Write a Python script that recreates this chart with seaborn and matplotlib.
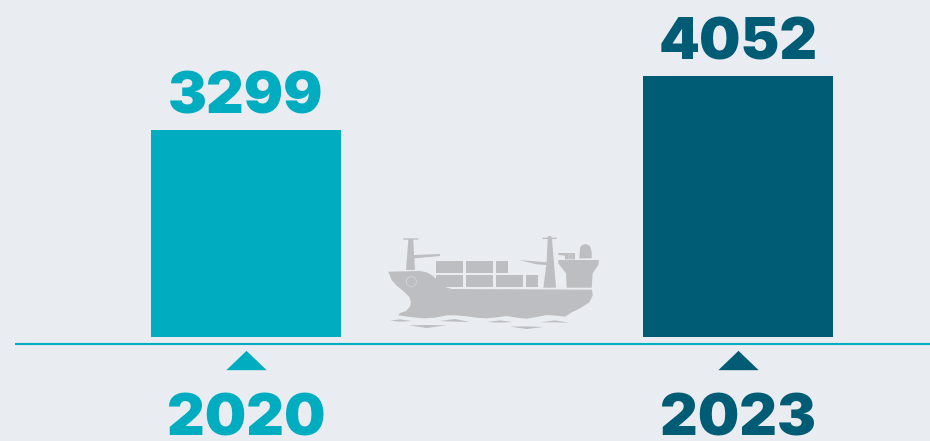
import matplotlib
matplotlib.use('Agg')
import matplotlib.pyplot as plt
from matplotlib.patches import Polygon, Rectangle, Circle
import pandas as pd
import seaborn as sns

years = ['2020', '2023']
ships = [3299, 4052]
colors = ['#00ACBF', '#005B75']

BG = '#E9ECF1'
SHIP = '#BCBEC2'

sns.set_theme(style='white')
plt.rcParams['font.family'] = ['Inter', 'DejaVu Sans']

df = pd.DataFrame({'year': years, 'ships': ships})

fig = plt.figure(figsize=(9.3, 4.41), dpi=100, facecolor=BG)

# 柱状图区域：顶部到基线 y=337px
ax = fig.add_axes([0, 1 - 337 / 441, 1, 337 / 441], facecolor='none')
sns.barplot(data=df, x='year', y='ships', hue='year', palette=colors,
            legend=False, width=190 / 492, saturation=1, linewidth=0, ax=ax)
ax.set_xlim(-246 / 492, 684 / 492)
ax.set_ylim(412, 412 + 337 / 0.0717)
ax.set_xlabel('')
ax.set_ylabel('')
ax.set_yticks([])
for s in ax.spines.values():
    s.set_visible(False)

for cont, c in zip(ax.containers, colors):
    ax.bar_label(cont, fontsize=42, fontweight=900, color=c, padding=3)

ax.tick_params(axis='x', length=0, pad=41)
for lab, c in zip(ax.get_xticklabels(), colors):
    lab.set_fontsize(42)
    lab.set_fontweight(900)
    lab.set_color(c)

# 刻度下面的小三角
tri = [(-1, -0.48), (1, -0.48), (0, 0.48)]
for i, c in enumerate(colors):
    ax.plot([i], [-22.5 / 337], marker=tri, ms=29, color=c, mew=0,
            transform=ax.get_xaxis_transform(), clip_on=False)

# 像素坐标的覆盖层：基线和轮船
ov = fig.add_axes([0, 0, 1, 1], facecolor='none')
ov.set_xlim(0, 930)
ov.set_ylim(441, 0)
ov.axis('off')
ov.plot([15, 930], [343.5, 343.5], color=colors[0], lw=1.5, solid_capstyle='butt')


def px(pts):
    return [(380 + x / 3, 225 + y / 3) for x, y in pts]


shapes = [
    # 船身
    [(25, 140), (120, 138), (140, 142), (158, 152), (175, 167), (195, 186), (215, 192),
     (636, 194), (638, 212), (628, 232), (600, 250), (575, 262), (555, 275), (530, 272),
     (500, 270), (470, 276), (440, 281), (410, 278), (380, 273), (350, 277), (320, 280),
     (290, 278), (260, 274), (230, 271), (200, 271), (165, 278), (130, 280), (90, 276),
     (55, 271), (60, 264), (78, 258), (90, 245), (93, 232), (88, 216), (72, 200), (50, 182), (35, 165)],
    # 前桅
    [(70, 40), (115, 40), (115, 44), (100, 44), (102, 90), (180, 87), (180, 93), (103, 100),
     (105, 135), (78, 135), (85, 44), (70, 44)],
    # 后桅
    [(488, 38), (503, 38), (505, 33), (513, 33), (515, 38), (530, 38), (530, 42), (516, 42),
     (528, 188), (490, 188), (499, 120), (470, 118), (418, 105), (500, 112), (503, 42), (488, 42)],
    # 上层建筑
    [(535, 105), (657, 105), (655, 120), (638, 145), (635, 188), (560, 188), (558, 145), (535, 115)],
    [(535, 84), (585, 84), (585, 103), (555, 103), (555, 92), (535, 90)],
    [(598, 100), (600, 68), (606, 60), (618, 57), (630, 63), (635, 80), (635, 100)],
    # 水波
    [(30, 287), (60, 283), (95, 288), (60, 290)],
    [(85, 301), (140, 300), (200, 301), (140, 309)],
    [(180, 288), (225, 282), (270, 291), (225, 290)],
    [(322, 291), (360, 286), (398, 291), (360, 293)],
    [(390, 305), (440, 304), (490, 306), (440, 312)],
    [(480, 292), (525, 286), (568, 293), (525, 292)],
]
for s in shapes:
    ov.add_patch(Polygon(px(s), closed=True, fc=SHIP, ec='none'))

boxes = [(167, 107, 83, 36), (258, 107, 82, 36), (348, 107, 36, 36), (167, 150, 83, 36),
         (258, 150, 82, 36), (348, 150, 82, 36), (437, 150, 37, 36)]
for x, y, w, h in boxes:
    ov.add_patch(Rectangle((380 + x / 3, 225 + y / 3), w / 3, h / 3, fc=SHIP, ec='none'))
ov.add_patch(Circle((380 + 94 / 3, 225 + 170 / 3), 5, fc='none', ec='#D2D4D8', lw=0.6))
ov.add_patch(Circle((380 + 571 / 3, 225 + 94 / 3), 2.2, fc='none', ec='#D2D4D8', lw=0.5))

fig.savefig('out.png', dpi=100, facecolor=BG)
